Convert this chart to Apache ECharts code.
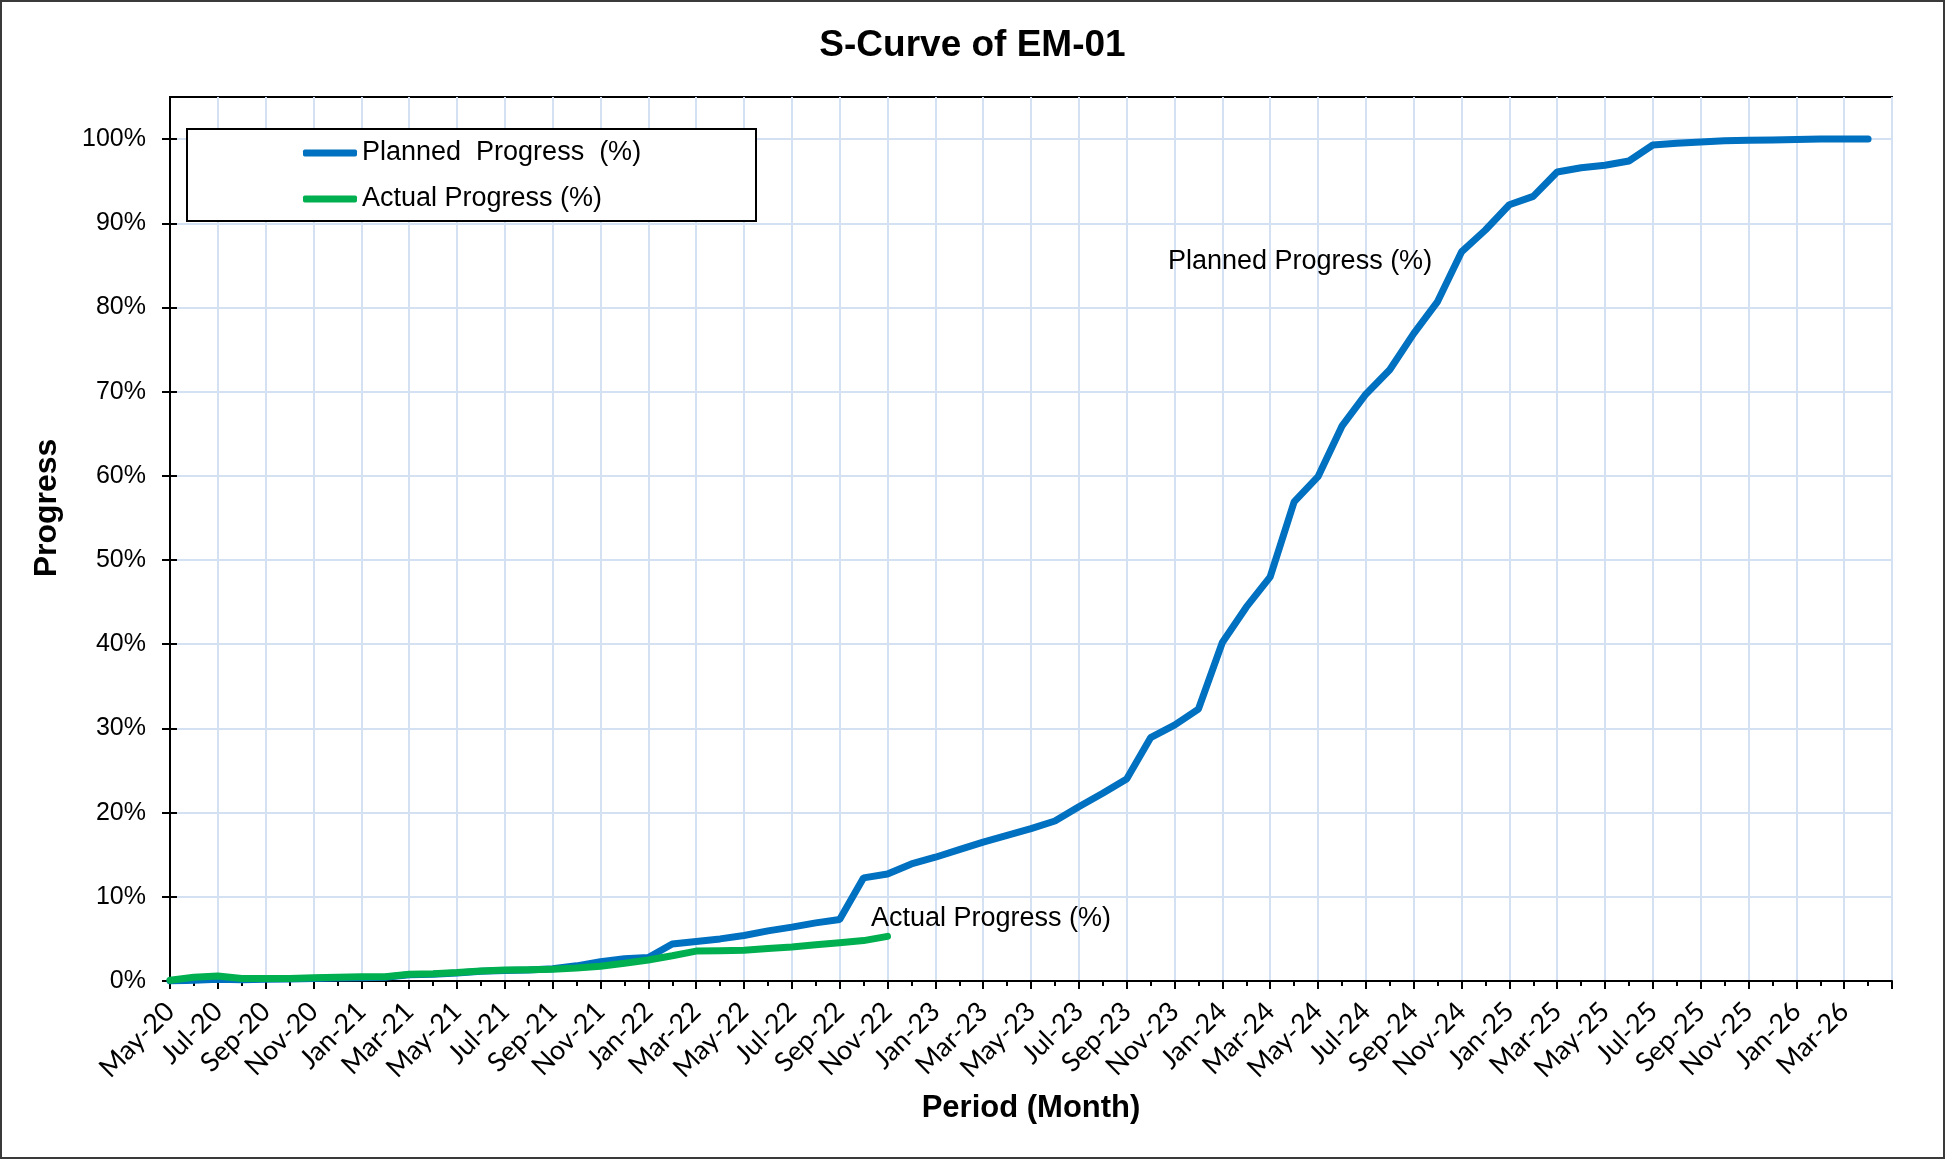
<!DOCTYPE html>
<html>
<head>
<meta charset="utf-8">
<script src="https://cdn.jsdelivr.net/npm/echarts@6/dist/echarts.min.js"></script>
<style>
  html, body { margin: 0; padding: 0; background: #fff; }
  #chart { width: 1945px; height: 1159px; }
</style>
</head>
<body>
<div id="chart"></div>
<script>
// Monthly periods on the category axis (May-20 .. May-26)
const months = [
  'May-20','Jun-20','Jul-20','Aug-20','Sep-20','Oct-20','Nov-20','Dec-20',
  'Jan-21','Feb-21','Mar-21','Apr-21','May-21','Jun-21','Jul-21','Aug-21','Sep-21','Oct-21','Nov-21','Dec-21',
  'Jan-22','Feb-22','Mar-22','Apr-22','May-22','Jun-22','Jul-22','Aug-22','Sep-22','Oct-22','Nov-22','Dec-22',
  'Jan-23','Feb-23','Mar-23','Apr-23','May-23','Jun-23','Jul-23','Aug-23','Sep-23','Oct-23','Nov-23','Dec-23',
  'Jan-24','Feb-24','Mar-24','Apr-24','May-24','Jun-24','Jul-24','Aug-24','Sep-24','Oct-24','Nov-24','Dec-24',
  'Jan-25','Feb-25','Mar-25','Apr-25','May-25','Jun-25','Jul-25','Aug-25','Sep-25','Oct-25','Nov-25','Dec-25',
  'Jan-26','Feb-26','Mar-26','Apr-26','May-26'
];

// Cumulative planned progress (%), May-20 .. Apr-26
const plannedProgress = [
  0, 0.1, 0.2, 0.15, 0.2, 0.25, 0.3, 0.35,
  0.4, 0.45, 0.75, 0.8, 0.95, 1.15, 1.25, 1.3, 1.45, 1.8, 2.3, 2.65,
  2.8, 4.4, 4.7, 5.0, 5.4, 5.95, 6.4, 6.9, 7.3, 12.25, 12.7, 13.9,
  14.7, 15.6, 16.5, 17.3, 18.1, 19.0, 20.7, 22.3, 24.0, 28.9, 30.4, 32.3,
  40.2, 44.4, 48.0, 56.9, 59.9, 65.9, 69.7, 72.6, 76.9, 80.7, 86.6, 89.2,
  92.2, 93.2, 96.1, 96.6, 96.9, 97.4, 99.3, 99.5, 99.65, 99.8, 99.85, 99.9,
  99.95, 100, 100, 100
];

// Cumulative actual progress (%), May-20 .. Nov-22
const actualProgress = [
  0.1, 0.45, 0.6, 0.3, 0.3, 0.3, 0.4, 0.45,
  0.5, 0.5, 0.8, 0.85, 1.0, 1.2, 1.3, 1.35, 1.4, 1.55, 1.75, 2.1,
  2.5, 3.0, 3.55, 3.6, 3.65, 3.85, 4.05, 4.3, 4.55, 4.8, 5.3
];

// Progress axis ticks (%)
const percentTicks = [0, 10, 20, 30, 40, 50, 60, 70, 80, 90, 100];

const plannedName = 'Planned  Progress  (%)';
const actualName = 'Actual Progress (%)';

const ARIAL = '"Liberation Sans", Arial, sans-serif';
const gridColor = '#D3E1F3';
const black = '#000';

const chart = echarts.init(document.getElementById('chart'), null, { renderer: 'canvas' });

chart.setOption({
  animation: false,
  backgroundColor: '#fff',
  title: {
    text: 'S-Curve of EM-01',
    left: 'center',
    top: 22,
    textStyle: { fontFamily: ARIAL, fontSize: 37, fontWeight: 'bold', color: black }
  },
  grid: {
    left: 170, right: 53, top: 97, bottom: 178,
    show: true, borderColor: black, borderWidth: 2
  },
  legend: {
    orient: 'vertical',
    left: 303, top: 138,
    padding: 0,
    itemWidth: 54, itemHeight: 7, itemGap: 16,
    icon: 'roundRect',
    textStyle: { fontFamily: ARIAL, fontSize: 27, color: black, lineHeight: 30 },
    data: [plannedName, actualName],
    z: 5
  },
  xAxis: [
    {
      type: 'category',
      data: months,
      boundaryGap: false,
      axisLine: { lineStyle: { color: black, width: 2 } },
      axisTick: { interval: 0, length: 5, lineStyle: { color: black, width: 2 } },
      axisLabel: {
        interval: 1, rotate: 45, margin: 26, showMaxLabel: false,
        fontFamily: 'Lato, "Open Sans", sans-serif', fontSize: 27, color: black
      },
      splitLine: { show: true, interval: 1, lineStyle: { color: gridColor, width: 2 } }
    },
    {
      type: 'category',
      data: months,
      boundaryGap: false,
      position: 'bottom',
      axisLine: { show: false },
      axisTick: { interval: 1, length: 8, lineStyle: { color: black, width: 2 } },
      axisLabel: { show: false },
      splitLine: { show: false }
    }
  ],
  yAxis: [
    {
      type: 'value',
      min: 0, max: 105, interval: 10,
      axisLine: { show: true, lineStyle: { color: black, width: 2 } },
      axisTick: { show: true, length: 8, customValues: percentTicks, lineStyle: { color: black, width: 2 } },
      axisLabel: {
        customValues: percentTicks,
        margin: 24,
        formatter: v => (v > 100 ? '' : v + '%'),
        fontFamily: ARIAL, fontSize: 25, color: black
      },
      splitLine: { show: true, lineStyle: { color: gridColor, width: 2 } }
    },
    {
      type: 'value',
      min: 0, max: 105, interval: 10,
      position: 'left',
      axisLine: { show: false },
      axisTick: { show: true, inside: true, length: 7, customValues: percentTicks, lineStyle: { color: black, width: 2 } },
      axisLabel: { show: false },
      splitLine: { show: false }
    }
  ],
  series: [
    {
      name: plannedName,
      type: 'line',
      data: plannedProgress,
      symbol: 'none',
      silent: true,
      itemStyle: { color: '#0070C0' },
      lineStyle: { color: '#0070C0', width: 7, cap: 'round' },
      z: 2
    },
    {
      name: actualName,
      type: 'line',
      data: actualProgress,
      symbol: 'none',
      silent: true,
      itemStyle: { color: '#00B050' },
      lineStyle: { color: '#00B050', width: 7, cap: 'round' },
      z: 3
    }
  ],
  graphic: [
    // outer chart frame
    { type: 'rect', z: 0, silent: true,
      shape: { x: 1, y: 1, width: 1943, height: 1157 },
      style: { fill: null, stroke: '#3a3a3a', lineWidth: 2 } },
    // legend box
    { type: 'rect', z: 4, silent: true,
      shape: { x: 187, y: 129, width: 569, height: 92 },
      style: { fill: '#fff', stroke: black, lineWidth: 2 } },
    // series annotations
    { type: 'text', z: 5, silent: true, x: 1168, y: 262,
      style: { text: 'Planned Progress (%)', font: '27px ' + ARIAL, fill: black, verticalAlign: 'middle' } },
    { type: 'text', z: 5, silent: true, x: 871, y: 919,
      style: { text: 'Actual Progress (%)', font: '27px ' + ARIAL, fill: black, verticalAlign: 'middle' } },
    // axis titles
    { type: 'text', z: 5, silent: true, x: 47, y: 508, rotation: Math.PI / 2,
      style: { text: 'Progress', font: 'bold 32px ' + ARIAL, fill: black, align: 'center', verticalAlign: 'middle' } },
    { type: 'text', z: 5, silent: true, x: 1031, y: 1108,
      style: { text: 'Period (Month)', font: 'bold 31px ' + ARIAL, fill: black, align: 'center', verticalAlign: 'middle' } }
  ]
});
</script>
</body>
</html>
